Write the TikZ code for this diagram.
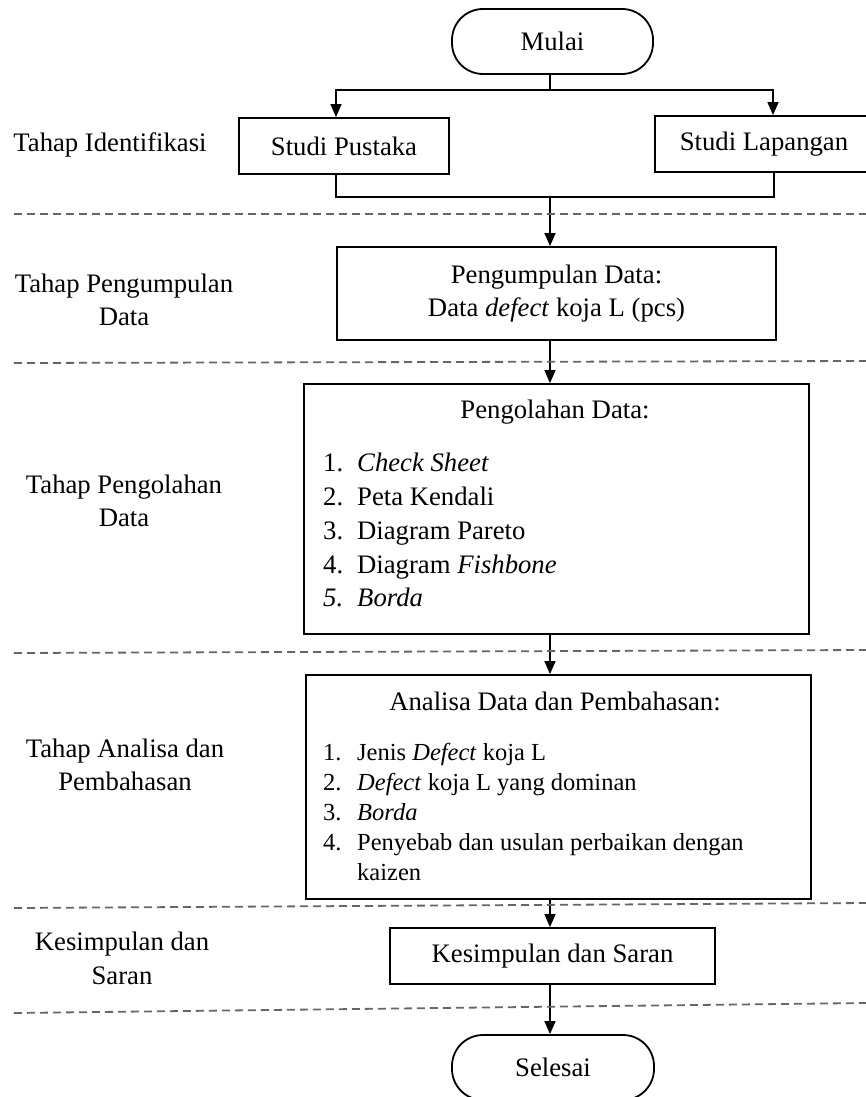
\documentclass[tikz,border=0pt]{standalone}
\usepackage{fontspec}
\setmainfont{Liberation Serif}
\usetikzlibrary{arrows.meta}
\newcommand\mtxt{\fontsize{26.7}{33.5}\selectfont}
\newcommand\stxt{\fontsize{24.5}{30}\selectfont}
\begin{document}
\begin{tikzpicture}[x=1pt,y=-1pt,
    kotak/.style={draw,line width=1.8pt,inner sep=0pt,font=\mtxt},
    ujung/.style={kotak,rounded corners=31pt},
    garis/.style={line width=1.4pt},
    panah/.style={garis,-{Triangle[length=13pt,width=11pt]}},
    batas/.style={line width=1.8pt,dash pattern=on 8pt off 5pt,black!60},
    tahap/.style={font=\mtxt,align=center},
    isi/.style={anchor=base west,inner sep=0pt}]
  \useasboundingbox (0,0) rectangle (866,1097);
  % kotak alur
  \node[ujung,minimum width=201pt,minimum height=65pt] (mulai) at (552.5,41.5) {Mulai};
  \node[kotak,minimum width=210pt,minimum height=56pt] (pustaka) at (344,146) {Studi Pustaka};
  \node[kotak,minimum width=218pt,minimum height=56pt] (lapangan) at (764,144) {Studi Lapangan};
  \node[kotak,minimum width=439pt,minimum height=93pt,align=center] (kumpul) at (556.5,293.5)
    {Pengumpulan Data:\\Data \textit{defect} koja L (pcs)};
  \node[kotak,minimum width=505pt,minimum height=250pt] (olah) at (556.5,509) {};
  \node[anchor=base,font=\mtxt] (olahjudul) at (555,418) {Pengolahan Data:};
  \node[isi,font=\mtxt] (olah1) at (323,471) {\makebox[34pt][l]{1.}\textit{Check Sheet}};
  \node[isi,font=\mtxt] (olah2) at (323,505) {\makebox[34pt][l]{2.}Peta Kendali};
  \node[isi,font=\mtxt] (olah3) at (323,539) {\makebox[34pt][l]{3.}Diagram Pareto};
  \node[isi,font=\mtxt] (olah4) at (323,573) {\makebox[34pt][l]{4.}Diagram \textit{Fishbone}};
  \node[isi,font=\mtxt] (olah5) at (323,606) {\makebox[34pt][l]{\textit{5.}}\textit{Borda}};
  \node[kotak,minimum width=505pt,minimum height=224pt] (analisa) at (558.5,787) {};
  \node[anchor=base,font=\mtxt] (analisajudul) at (555,710) {Analisa Data dan Pembahasan:};
  \node[isi,font=\stxt] (analisa1) at (323,760) {\makebox[34pt][l]{1.}Jenis \textit{Defect} koja L};
  \node[isi,font=\stxt] (analisa2) at (323,790) {\makebox[34pt][l]{2.}\textit{Defect} koja L yang dominan};
  \node[isi,font=\stxt] (analisa3) at (323,820) {\makebox[34pt][l]{3.}\textit{Borda}};
  \node[isi,font=\stxt] (analisa4) at (323,850) {\makebox[34pt][l]{4.}Penyebab dan usulan perbaikan dengan};
  \node[isi,font=\stxt] (analisa5) at (357,880) {kaizen};
  \node[kotak,minimum width=325pt,minimum height=56pt] (simpul) at (552.5,956) {Kesimpulan dan Saran};
  \node[ujung,minimum width=202pt,minimum height=65pt] (selesai) at (553,1067.5) {Selesai};
  % penghubung
  \coordinate (cabang) at (550,90);
  \coordinate (gabung) at (550,197);
  \draw[garis] (mulai.south -| cabang) -- (cabang);
  \draw[panah] (cabang) -| ([xshift=-8pt]pustaka.north);
  \draw[panah] (cabang) -| ([xshift=9pt]lapangan.north);
  \draw[garis] ([xshift=-8pt]pustaka.south) |- (gabung) -| ([xshift=10pt]lapangan.south);
  \draw[panah] (gabung) -- (gabung |- kumpul.north);
  \draw[panah] (kumpul.south -| gabung) -- (olah.north -| gabung);
  \draw[panah] (olah.south -| gabung) -- (analisa.north -| gabung);
  \draw[panah] (analisa.south -| gabung) -- (simpul.north -| gabung);
  \draw[panah] (simpul.south -| gabung) -- (selesai.north -| gabung);
  % garis batas tahap
  \draw[batas] (14,214) -- (866,214);
  \draw[batas] (14,363) -- (866,361);
  \draw[batas] (14,653) -- (866,650);
  \draw[batas] (14,908) -- (866,903);
  \draw[batas] (14,1013) -- (866,1003);
  % nama tahap
  \node[tahap] (tident) at (110,145) {Tahap Identifikasi};
  \node[tahap] (tkumpul) at (124,300) {Tahap Pengumpulan\\Data};
  \node[tahap] (tolah) at (124,501) {Tahap Pengolahan\\Data};
  \node[tahap] (tanalisa) at (125,765) {Tahap Analisa dan\\Pembahasan};
  \node[tahap] (tsimpul) at (122,958.5) {Kesimpulan dan\\Saran};
\end{tikzpicture}
\end{document}
